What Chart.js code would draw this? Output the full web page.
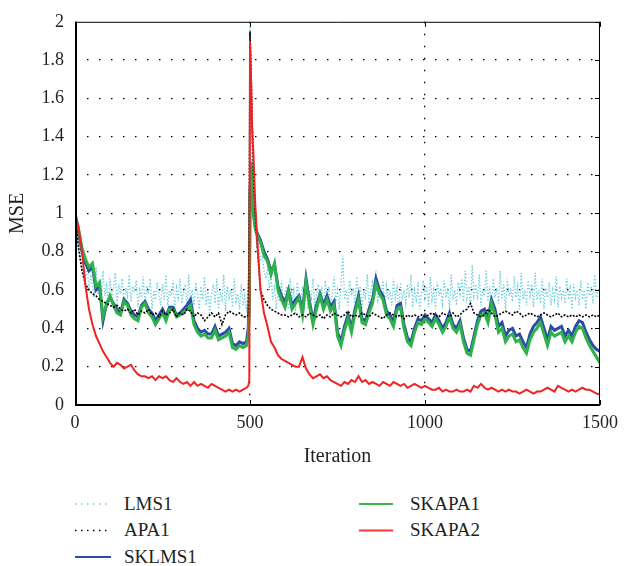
<!DOCTYPE html>
<html>
<head>
<meta charset="utf-8">
<script src="https://cdn.jsdelivr.net/npm/chart.js@4.4.1/dist/chart.umd.min.js"></script>
<style>
  html, body { margin: 0; padding: 0; background: #fff; }
  #wrap { position: relative; width: 625px; height: 566px; font-family: "Liberation Serif", "DejaVu Serif", serif; color: #231f20; }
  #c { position: absolute; left: 0; top: 0; }
  .lg { position: absolute; font-size: 19px; line-height: 20px; white-space: nowrap; }
  .sw { position: absolute; }
</style>
</head>
<body>
<div id="wrap">
  <canvas id="c" width="625" height="470"></canvas>
  <svg class="sw" style="left:75px;top:494px" width="40" height="70">
    <line x1="0" y1="10" x2="36" y2="10" stroke="#66CCDD" stroke-width="1.5" stroke-dasharray="1.5,4.5"/>
    <line x1="0" y1="36.5" x2="36" y2="36.5" stroke="#000" stroke-width="1.5" stroke-dasharray="1.5,4.5"/>
    <line x1="0" y1="63" x2="36" y2="63" stroke="#2B4DA5" stroke-width="2"/>
  </svg>
  <svg class="sw" style="left:359px;top:494px" width="40" height="45">
    <line x1="0" y1="10" x2="34" y2="10" stroke="#3DB54A" stroke-width="2"/>
    <line x1="0" y1="36.5" x2="34" y2="36.5" stroke="#EE3B3B" stroke-width="2"/>
  </svg>
  <div class="lg" style="left:124px;top:494px">LMS1</div>
  <div class="lg" style="left:124px;top:520px">APA1</div>
  <div class="lg" style="left:124px;top:547px">SKLMS1</div>
  <div class="lg" style="left:410px;top:494px">SKAPA1</div>
  <div class="lg" style="left:410px;top:520px">SKAPA2</div>
</div>
<script>
// ---- Data ----
const seriesNames = ["LMS1", "APA1", "SKLMS1", "SKAPA1", "SKAPA2"];
const xTicks = [0, 500, 1000, 1500];
const yTicks = [0, 0.2, 0.4, 0.6, 0.8, 1, 1.2, 1.4, 1.6, 1.8, 2];

// iterations for APA1 / SKLMS1 / SKAPA1 / SKAPA2
const iterations = [];
for (let i = 0; i <= 490; i += 10) iterations.push(i);
[495, 498, 500, 503, 506, 510, 515, 520].forEach(v => iterations.push(v));
for (let i = 530; i <= 1500; i += 10) iterations.push(i);

// iterations for LMS1 (denser)
const lmsIterations = [];
for (let i = 0; i <= 1500; i += 5) lmsIterations.push(i);

const lms1 = [
  1.0, 0.9, 0.82, 0.78, 0.72, 0.7, 0.66, 0.74, 0.6, 0.68,
  0.62, 0.56, 0.72, 0.58, 0.66, 0.55, 0.7, 0.57, 0.62, 0.52,
  0.66, 0.56, 0.6, 0.69, 0.53, 0.63, 0.58, 0.66, 0.52, 0.61,
  0.57, 0.68, 0.54, 0.62, 0.59, 0.65, 0.51, 0.6, 0.56, 0.67,
  0.53, 0.62, 0.58, 0.66, 0.5, 0.6, 0.55, 0.64, 0.57, 0.52,
  0.63, 0.55, 0.68, 0.52, 0.6, 0.57, 0.65, 0.5, 0.61, 0.56,
  0.66, 0.53, 0.59, 0.63, 0.51, 0.68, 0.55, 0.6, 0.52, 0.64,
  0.57, 0.5, 0.62, 0.55, 0.67, 0.52, 0.6, 0.48, 0.58, 0.63,
  0.53, 0.66, 0.5, 0.59, 0.55, 0.68, 0.49, 0.62, 0.56, 0.6,
  0.51, 0.66, 0.54, 0.58, 0.5, 0.63, 0.52, 0.57, 0.49, 0.6,
  1.98, 1.3, 1.0, 0.9, 0.82, 0.85, 0.75, 0.78, 0.7, 0.66,
  0.72, 0.6, 0.68, 0.55, 0.63, 0.5, 0.6, 0.54, 0.65, 0.52,
  0.58, 0.62, 0.5, 0.66, 0.55, 0.6, 0.48, 0.64, 0.57, 0.52,
  0.62, 0.55, 0.69, 0.5, 0.6, 0.56, 0.66, 0.52, 0.58, 0.63,
  0.54, 0.6, 0.5, 0.65, 0.56, 0.62, 0.52, 0.58, 0.67, 0.55,
  0.6, 0.5, 0.63, 0.78, 0.55, 0.6, 0.52, 0.65, 0.57, 0.61,
  0.53, 0.67, 0.56, 0.62, 0.5, 0.6, 0.55, 0.68, 0.52, 0.6,
  0.64, 0.56, 0.7, 0.53, 0.6, 0.57, 0.65, 0.5, 0.62, 0.55,
  0.6, 0.52, 0.66, 0.56, 0.61, 0.49, 0.64, 0.55, 0.6, 0.53,
  0.63, 0.56, 0.68, 0.51, 0.6, 0.55, 0.62, 0.5, 0.58, 0.65,
  0.56, 0.62, 0.51, 0.67, 0.55, 0.6, 0.5, 0.64, 0.57, 0.6,
  0.53, 0.65, 0.56, 0.61, 0.5, 0.68, 0.55, 0.6, 0.52, 0.64,
  0.58, 0.66, 0.54, 0.7, 0.56, 0.62, 0.51, 0.73, 0.57, 0.63,
  0.55, 0.68, 0.52, 0.6, 0.57, 0.7, 0.54, 0.62, 0.5, 0.66,
  0.56, 0.61, 0.53, 0.7, 0.55, 0.63, 0.5, 0.66, 0.57, 0.6,
  0.54, 0.67, 0.56, 0.62, 0.5, 0.69, 0.55, 0.6, 0.52, 0.65,
  0.57, 0.63, 0.51, 0.69, 0.55, 0.6, 0.53, 0.66, 0.5, 0.61,
  0.56, 0.64, 0.52, 0.6, 0.55, 0.67, 0.51, 0.62, 0.56, 0.6,
  0.53, 0.66, 0.55, 0.61, 0.5, 0.63, 0.56, 0.6, 0.52, 0.65,
  0.55, 0.6, 0.5, 0.64, 0.57, 0.62, 0.53, 0.68, 0.56, 0.6,
  0.62
];

const apa1 = [
  1.0, 0.82, 0.7, 0.63, 0.6, 0.58, 0.57, 0.55, 0.54, 0.53,
  0.52, 0.51, 0.52, 0.5, 0.49, 0.5, 0.48, 0.5, 0.47, 0.49,
  0.48, 0.5, 0.47, 0.48, 0.46, 0.49, 0.47, 0.48, 0.5, 0.46,
  0.48, 0.47, 0.5, 0.49, 0.46, 0.48, 0.47, 0.44, 0.46, 0.48,
  0.46, 0.48, 0.42, 0.47, 0.49, 0.48, 0.47, 0.48, 0.46, 0.46,
  0.47, 0.9, 1.95, 1.75, 1.5, 1.2, 1.0, 0.85,
  0.6, 0.55, 0.52, 0.5, 0.49, 0.48, 0.47, 0.47, 0.46, 0.47,
  0.48, 0.46, 0.47, 0.46, 0.48, 0.47, 0.46, 0.47, 0.45, 0.47,
  0.46, 0.48, 0.47, 0.46, 0.47, 0.49, 0.46, 0.47, 0.46, 0.48,
  0.47, 0.46, 0.48, 0.47, 0.46, 0.45, 0.47, 0.48, 0.47, 0.46,
  0.47, 0.45, 0.47, 0.46, 0.47, 0.46, 0.47, 0.46, 0.47, 0.48,
  0.47, 0.46, 0.48, 0.47, 0.46, 0.48, 0.46, 0.47, 0.49, 0.5,
  0.53, 0.48, 0.47, 0.46, 0.47, 0.5, 0.48, 0.46, 0.47, 0.48,
  0.49, 0.48, 0.47, 0.49, 0.48, 0.46, 0.47, 0.48, 0.47, 0.46,
  0.47, 0.48, 0.47, 0.46, 0.47, 0.48, 0.46, 0.47, 0.46, 0.47,
  0.46, 0.47, 0.46, 0.47, 0.46, 0.47, 0.46, 0.47
];

const sklms1 = [
  1.0, 0.9, 0.8, 0.74, 0.7, 0.72, 0.6, 0.62, 0.44, 0.53,
  0.56, 0.53, 0.5, 0.48, 0.55, 0.53, 0.49, 0.47, 0.46, 0.52,
  0.54, 0.5, 0.48, 0.44, 0.47, 0.5, 0.46, 0.51, 0.51, 0.47,
  0.48, 0.5, 0.52, 0.55, 0.44, 0.4, 0.38, 0.39, 0.37, 0.37,
  0.41, 0.36, 0.37, 0.38, 0.4, 0.32, 0.31, 0.33, 0.32, 0.33,
  0.4, 0.55, 1.1, 1.24, 1.1, 1.0, 0.93, 0.9,
  0.86, 0.8, 0.76, 0.7, 0.73, 0.62, 0.57, 0.53, 0.6, 0.52,
  0.55, 0.57, 0.49, 0.66, 0.54, 0.44, 0.52, 0.58, 0.52, 0.57,
  0.51, 0.54, 0.38, 0.33, 0.41, 0.47, 0.4, 0.5, 0.57, 0.45,
  0.44, 0.5, 0.55, 0.66, 0.6, 0.57, 0.49, 0.47, 0.43, 0.52,
  0.53, 0.42, 0.35, 0.33, 0.4, 0.45, 0.44, 0.47, 0.45, 0.43,
  0.47, 0.44, 0.4, 0.43, 0.48, 0.42, 0.4, 0.44, 0.35, 0.29,
  0.28, 0.36, 0.44, 0.49, 0.5, 0.45, 0.55, 0.5, 0.41, 0.43,
  0.36, 0.39, 0.4, 0.36, 0.37, 0.33, 0.3, 0.37, 0.41, 0.43,
  0.46, 0.4, 0.34, 0.41, 0.39, 0.4, 0.41, 0.36, 0.39, 0.36,
  0.41, 0.44, 0.43, 0.38, 0.34, 0.31, 0.29, 0.28
];

const skapa1 = [
  1.0, 0.92, 0.82, 0.76, 0.72, 0.74, 0.62, 0.64, 0.46, 0.52,
  0.57, 0.52, 0.48, 0.47, 0.54, 0.52, 0.47, 0.45, 0.44, 0.51,
  0.53, 0.48, 0.46, 0.42, 0.45, 0.48, 0.44, 0.5, 0.5, 0.46,
  0.47, 0.485, 0.5, 0.52, 0.42, 0.38, 0.36, 0.37, 0.35, 0.35,
  0.39, 0.34, 0.35, 0.36, 0.38, 0.3, 0.29, 0.31, 0.3, 0.31,
  0.36, 0.5, 1.05, 1.27, 1.12, 1.0, 0.92, 0.89,
  0.85, 0.78, 0.75, 0.68, 0.74, 0.6, 0.55, 0.51, 0.59, 0.5,
  0.53, 0.56, 0.47, 0.64, 0.52, 0.42, 0.5, 0.57, 0.5, 0.55,
  0.49, 0.52, 0.36, 0.31, 0.39, 0.45, 0.38, 0.48, 0.55, 0.43,
  0.42, 0.48, 0.53, 0.63, 0.58, 0.55, 0.47, 0.45, 0.41, 0.5,
  0.51, 0.4, 0.33, 0.31, 0.38, 0.43, 0.42, 0.45, 0.43, 0.41,
  0.45, 0.42, 0.38, 0.41, 0.46, 0.4, 0.38, 0.42, 0.33, 0.27,
  0.26, 0.34, 0.42, 0.47, 0.48, 0.43, 0.53, 0.47, 0.38, 0.4,
  0.33, 0.36, 0.37, 0.33, 0.34, 0.3, 0.27, 0.34, 0.38, 0.4,
  0.43, 0.37, 0.31, 0.38, 0.36, 0.37, 0.38, 0.33, 0.36, 0.33,
  0.38, 0.41, 0.4, 0.35, 0.31, 0.28, 0.25, 0.22
];

const skapa2 = [
  1.0, 0.93, 0.8, 0.62, 0.5, 0.42, 0.36, 0.32, 0.28, 0.25,
  0.22, 0.2, 0.22, 0.21, 0.19, 0.2, 0.21, 0.18, 0.16, 0.15,
  0.15, 0.14, 0.15, 0.13, 0.15, 0.14, 0.15, 0.13, 0.12, 0.14,
  0.12, 0.11, 0.12, 0.1, 0.12, 0.1, 0.11, 0.1, 0.09, 0.11,
  0.1, 0.09, 0.08, 0.07, 0.08, 0.07, 0.08, 0.07, 0.08, 0.09,
  0.1, 0.13, 1.9, 1.7, 1.45, 1.3, 1.05, 0.88,
  0.6, 0.48, 0.41, 0.33, 0.3, 0.26, 0.24, 0.23, 0.22, 0.21,
  0.2, 0.2, 0.25, 0.19, 0.16, 0.14, 0.15, 0.16, 0.14, 0.15,
  0.13, 0.12, 0.11, 0.1, 0.12, 0.11, 0.13, 0.12, 0.15, 0.12,
  0.13, 0.11, 0.12, 0.11, 0.1, 0.12, 0.11, 0.1, 0.12, 0.11,
  0.1, 0.11, 0.09, 0.1, 0.11, 0.1, 0.09, 0.1, 0.09, 0.08,
  0.08, 0.09, 0.07, 0.08, 0.07, 0.07, 0.08, 0.07, 0.07, 0.08,
  0.07, 0.1, 0.09, 0.11, 0.09, 0.08, 0.09, 0.08, 0.07, 0.08,
  0.07, 0.08, 0.07, 0.07, 0.06, 0.07, 0.08, 0.07, 0.06, 0.07,
  0.07, 0.08, 0.09, 0.08, 0.07, 0.1, 0.09, 0.08, 0.07, 0.08,
  0.07, 0.08, 0.09, 0.08, 0.08, 0.07, 0.06, 0.055
];

// ---- Chart ----
const pts = (xs, ys) => ys.map((y, i) => ({ x: xs[i], y }));
const FONT = "'Liberation Serif', 'DejaVu Serif', serif";
const TXT = '#231f20';

const framePlugin = {
  id: 'frame',
  afterDraw(chart) {
    const { ctx, chartArea: a, scales } = chart;
    ctx.save();
    ctx.strokeStyle = '#000';
    ctx.lineWidth = 1;
    ctx.beginPath();
    ctx.moveTo(a.left, a.top + 0.5); ctx.lineTo(a.right, a.top + 0.5);
    ctx.moveTo(a.right - 0.5, a.top); ctx.lineTo(a.right - 0.5, a.bottom);
    yTicks.forEach(v => {
      const y = Math.round(scales.y.getPixelForValue(v)) + 0.5;
      ctx.moveTo(a.right - 5, y); ctx.lineTo(a.right, y);
    });
    xTicks.forEach(v => {
      const x = Math.round(scales.x.getPixelForValue(v)) + 0.5;
      ctx.moveTo(x, a.top); ctx.lineTo(x, a.top + 5);
      ctx.moveTo(x, a.bottom); ctx.lineTo(x, a.bottom - 5);
    });
    ctx.stroke();
    ctx.lineWidth = 2;
    ctx.beginPath();
    ctx.moveTo(a.left + 1, a.top); ctx.lineTo(a.left + 1, a.bottom + 1);
    ctx.moveTo(a.left, a.bottom); ctx.lineTo(a.right, a.bottom);
    ctx.stroke();
    ctx.restore();
  }
};

new Chart(document.getElementById('c'), {
  type: 'line',
  data: {
    datasets: [
      { label: seriesNames[0], data: pts(lmsIterations, lms1), borderColor: '#6CCFDD', borderWidth: 1.4, borderDash: [1.3, 2], order: 4 },
      { label: seriesNames[1], data: pts(iterations, apa1), borderColor: '#000000', borderWidth: 1.6, borderDash: [2, 1.5], order: 1 },
      { label: seriesNames[2], data: pts(iterations, sklms1), borderColor: '#2B4DA5', borderWidth: 3, order: 3 },
      { label: seriesNames[3], data: pts(iterations, skapa1), borderColor: '#2EB04A', borderWidth: 3, order: 2 },
      { label: seriesNames[4], data: pts(iterations, skapa2), borderColor: '#EE2424', borderWidth: 2, order: 0 }
    ]
  },
  options: {
    responsive: false,
    animation: false,
    devicePixelRatio: 1,
    elements: { point: { radius: 0 }, line: { tension: 0, fill: false } },
    layout: { padding: { top: 13, right: 22, left: 0, bottom: 0 } },
    plugins: { legend: { display: false }, tooltip: { enabled: false } },
    scales: {
      x: {
        type: 'linear', min: 0, max: 1500,
        afterBuildTicks: s => { s.ticks = xTicks.map(v => ({ value: v })); },
        afterFit: s => { s.height = 65; },
        border: { display: false, dash: [1.5, 10.5] },
        grid: {
          drawTicks: false,
          color: c => (c.tick.value === 0 || c.tick.value === 1500) ? 'rgba(0,0,0,0)' : '#000',
          lineWidth: 1.3
        },
        ticks: { color: TXT, font: { family: FONT, size: 18 }, padding: 7, maxRotation: 0, callback: v => String(v) },
        title: { display: true, text: 'Iteration', color: TXT, font: { family: FONT, size: 20 }, padding: { top: 0, bottom: 1 } }
      },
      y: {
        min: 0, max: 2,
        afterBuildTicks: s => { s.ticks = yTicks.map(v => ({ value: v })); },
        afterFit: s => { s.width = 75; },
        border: { display: false, dash: [1.5, 10.5] },
        grid: {
          drawTicks: false,
          color: c => (c.tick.value === 0 || c.tick.value === 2) ? 'rgba(0,0,0,0)' : '#000',
          lineWidth: 1.3
        },
        ticks: { color: TXT, font: { family: FONT, size: 18 }, padding: 11, callback: v => String(+v.toFixed(1)) },
        title: { display: true, text: 'MSE', color: TXT, font: { family: FONT, size: 20 }, padding: { top: 6, bottom: 6 } }
      }
    }
  },
  plugins: [framePlugin]
});
</script>
</body>
</html>
